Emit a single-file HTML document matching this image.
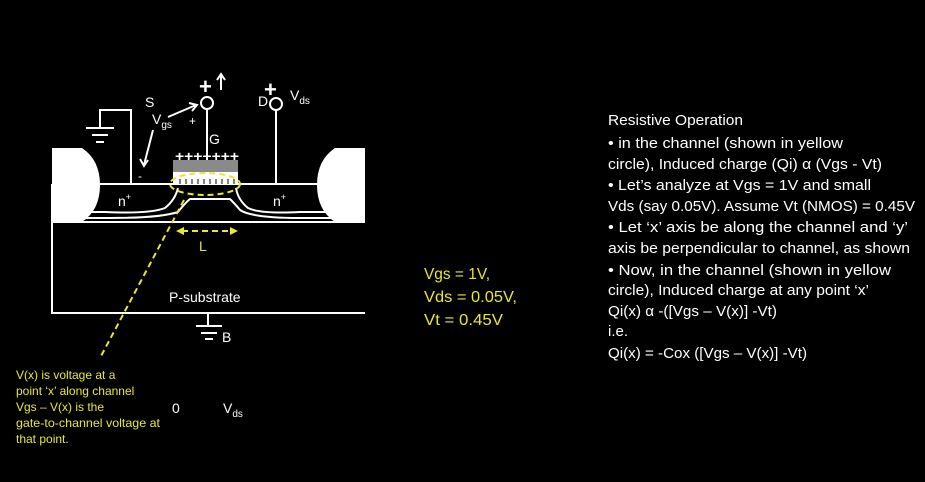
<!DOCTYPE html>
<html><head><meta charset="utf-8"><style>
html,body{margin:0;padding:0;background:#000;}
svg{display:block}
text{font-family:"Liberation Sans",sans-serif;}
</style></head><body>
<svg width="925" height="482" viewBox="0 0 925 482">
<rect width="925" height="482" fill="#000"/>
<g stroke="#fff" stroke-width="2" fill="none">
  <polyline points="52,184 52,313 365,313"/>
  <line x1="52" y1="222" x2="365" y2="222"/>
  <line x1="52" y1="184" x2="365" y2="184"/>
  <path d="M52,212 L105,212 Q150,214 165,208 Q175,200 178,188"/>
  <path d="M60,218 L110,218 Q160,218 178,212 Q186,202 190,199 L230,199 Q236,205 240,210 Q252,218 300,218 L362,218"/>
  <path d="M365,212 L300,212 Q260,214 248,208 Q238,200 236,188"/>
  <polyline points="131,184 131,110 100,110 100,128"/>
  <line x1="86" y1="128" x2="114" y2="128"/>
  <line x1="92" y1="135" x2="108" y2="135"/>
  <line x1="96" y1="142" x2="104" y2="142"/>
  <line x1="207" y1="109" x2="207" y2="160"/>
  <circle cx="207" cy="103" r="6"/>
  <line x1="276" y1="110" x2="276" y2="184"/>
  <circle cx="276" cy="104" r="6"/>
  <line x1="208" y1="313" x2="208" y2="326"/>
  <line x1="196" y1="326" x2="222" y2="326"/>
  <line x1="201" y1="333" x2="217" y2="333"/>
  <line x1="205" y1="339" x2="213" y2="339"/>
  <line x1="221" y1="90" x2="221" y2="75"/>
  <polyline points="217,80 221,74 225,80"/>
  <line x1="168" y1="117" x2="196" y2="105"/>
  <polyline points="189,103 197,105 192,111"/>
  <line x1="153" y1="130" x2="144" y2="165"/>
  <polyline points="140,159 144,166 148,160"/>
</g>
<path d="M52,148 L82,148 Q100,160 100,185 Q100,210 82,222 L52,222 Z" fill="#fff"/>
<path d="M365,148 L335,148 Q317,160 317,185 Q317,210 335,222 L365,222 Z" fill="#fff"/>
<rect x="173" y="160" width="65" height="12" fill="#8a8a8a"/>
<rect x="173" y="172" width="65" height="12" fill="#fff"/>
<g stroke="#000" stroke-width="1">
  <line x1="180" y1="179" x2="180" y2="184"/><line x1="186" y1="179" x2="186" y2="184"/><line x1="192" y1="179" x2="192" y2="184"/><line x1="198" y1="179" x2="198" y2="184"/><line x1="204" y1="179" x2="204" y2="184"/><line x1="210" y1="179" x2="210" y2="184"/><line x1="216" y1="179" x2="216" y2="184"/><line x1="222" y1="179" x2="222" y2="184"/><line x1="228" y1="179" x2="228" y2="184"/><line x1="234" y1="179" x2="234" y2="184"/>
</g>
<g stroke="#e8e830" stroke-width="2" fill="none" stroke-dasharray="6,4">
  <ellipse cx="205" cy="184" rx="35" ry="11"/>
  <line x1="182" y1="231" x2="232" y2="231"/>
  <line x1="184" y1="200" x2="100" y2="358"/>
</g>
<polygon points="176,231 184,227 184,235" fill="#e8e830"/>
<polygon points="238,231 230,227 230,235" fill="#e8e830"/>
<g fill="#fff" font-size="14">
  <text x="145" y="107">S</text>
  <text x="152" y="124">V<tspan font-size="10" dy="4">gs</tspan></text>
  <text x="189" y="125" font-size="12">+</text>
  <text x="138" y="180" font-size="12">-</text>
  <text x="199" y="94" font-size="22" font-weight="bold">+</text>
  <text x="264" y="97" font-size="22" font-weight="bold">+</text>
  <text x="258" y="106">D</text>
  <text x="290" y="100">V<tspan font-size="10" dy="4">ds</tspan></text>
  <text x="209" y="144">G</text>
  <text x="175" y="161" font-size="14" font-weight="bold" textLength="64" lengthAdjust="spacingAndGlyphs">+++++++</text>
  <text x="118" y="206">n<tspan font-size="9" dy="-6">+</tspan></text>
  <text x="273" y="206">n<tspan font-size="9" dy="-6">+</tspan></text>
  <text x="169" y="302">P-substrate</text>
  <text x="222" y="342">B</text>
  <text x="172" y="413">0</text>
  <text x="223" y="413">V<tspan font-size="10" dy="4">ds</tspan></text>
  <text x="199" y="251" fill="#e8e830">L</text>
</g>
<g fill="#e8e830" font-size="12">
  <text x="16" y="379">V(x) is voltage at a</text>
  <text x="16" y="395">point ‘x’ along channel</text>
  <text x="16" y="411">Vgs – V(x) is the</text>
  <text x="16" y="427" textLength="144" lengthAdjust="spacingAndGlyphs">gate-to-channel voltage at</text>
  <text x="16" y="443">that point.</text>
</g>
<g fill="#e8e830" font-size="16">
  <text x="424" y="279" textLength="66" lengthAdjust="spacingAndGlyphs">Vgs = 1V,</text>
  <text x="424" y="302" textLength="93" lengthAdjust="spacingAndGlyphs">Vds = 0.05V,</text>
  <text x="424" y="325" textLength="79" lengthAdjust="spacingAndGlyphs">Vt = 0.45V</text>
</g>
<g fill="#fff" font-size="15">
  <text x="608" y="125" textLength="135" lengthAdjust="spacingAndGlyphs">Resistive Operation</text>
  <text x="608" y="148" textLength="235" lengthAdjust="spacingAndGlyphs">• in the channel (shown in yellow</text>
  <text x="608" y="169" textLength="274" lengthAdjust="spacingAndGlyphs">circle), Induced charge (Qi) α  (Vgs - Vt)</text>
  <text x="608" y="190" textLength="263" lengthAdjust="spacingAndGlyphs">•   Let’s analyze at Vgs = 1V and small</text>
  <text x="608" y="211" textLength="307" lengthAdjust="spacingAndGlyphs">Vds (say 0.05V). Assume Vt (NMOS) = 0.45V</text>
  <text x="608" y="232" textLength="300" lengthAdjust="spacingAndGlyphs">•   Let ‘x’ axis be along the channel and ‘y’</text>
  <text x="608" y="253" textLength="302" lengthAdjust="spacingAndGlyphs">axis be perpendicular to channel, as shown</text>
  <text x="608" y="275" textLength="283" lengthAdjust="spacingAndGlyphs">•   Now, in the channel (shown in yellow</text>
  <text x="608" y="295" textLength="261" lengthAdjust="spacingAndGlyphs">circle), Induced charge at any point ‘x’</text>
  <text x="608" y="316" textLength="169" lengthAdjust="spacingAndGlyphs">Qi(x) α -([Vgs – V(x)] -Vt)</text>
  <text x="608" y="336" textLength="20" lengthAdjust="spacingAndGlyphs">i.e.</text>
  <text x="608" y="358" textLength="199" lengthAdjust="spacingAndGlyphs">Qi(x) = -Cox ([Vgs – V(x)] -Vt)</text>
</g>
</svg>
</body></html>
